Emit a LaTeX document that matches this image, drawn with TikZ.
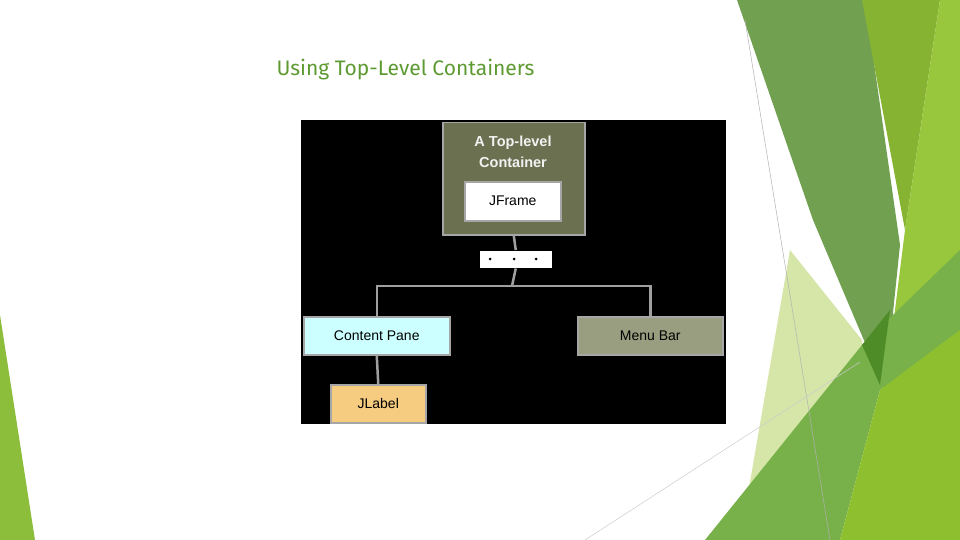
\documentclass[tikz,border=0pt]{standalone}
\usepackage{fontspec}
\setmainfont{Liberation Sans}
\newfontfamily\titlefont{Fira Sans}
\begin{document}
\begin{tikzpicture}[x=1pt,y=-1pt,
  box/.style={draw=gray!70,line width=1.5pt,inner sep=0pt,font=\fontsize{14}{16}\selectfont},
  link/.style={draw=gray!75,line width=2.5pt}]
\useasboundingbox (0,0) rectangle (960,540);
\fill[white] (0,0) rectangle (960,540);
% background shapes
\fill[green!50!black!60!lime!60!white,fill=lime!50!green!40!black!10!white] (0,0) rectangle (0,0);
\fill[color={rgb,255:red,213;green,230;blue,168}] (790,250) -- (862,340) -- (870,400) -- (760,540) -- (740,540) -- cycle;
\fill[color={rgb,255:red,112;green,160;blue,80}] (737,0) -- (865,0) -- (900,245) -- (885,390) -- (813,220) -- cycle;
\fill[color={rgb,255:red,134;green,179;blue,50}] (862,0) -- (940,0) -- (905,230) -- cycle;
\fill[color={rgb,255:red,152;green,198;blue,60}] (940,0) -- (960,0) -- (960,540) -- (870,540) -- (885,390) -- (905,230) -- cycle;
\fill[color={rgb,255:red,120;green,176;blue,74}] (705,540) -- (862,345) -- (960,250) -- (960,330) -- (880,390) -- (840,540) -- cycle;
\fill[color={rgb,255:red,142;green,191;blue,46}] (840,540) -- (880,390) -- (960,330) -- (960,540) -- cycle;
\fill[color={rgb,255:red,78;green,140;blue,40}] (862,345) -- (890,310) -- (880,385) -- cycle;
\fill[color={rgb,255:red,140;green,190;blue,60}] (0,315) -- (35,540) -- (0,540) -- cycle;
\draw[gray!60,line width=0.5pt] (745,20) -- (830,540);
\draw[gray!40,line width=0.5pt] (585,540) -- (860,362);
% title
\node[font=\titlefont\fontsize{21}{24}\selectfont,text={rgb,255:red,94;green,154;blue,50},anchor=west] (title) at (273,70) {Using Top-Level Containers};
% diagram
\fill[black] (301,120) rectangle (726,424);
\node[box,fill={rgb,255:red,107;green,112;blue,80},minimum width=142,minimum height=112,anchor=north west] (top) at (442,122) {};
\node[font=\bfseries\fontsize{14.5}{21}\selectfont,text=white!90!gray,align=center] (toptxt) at (513,152) {A Top-level\\Container};
\node[box,fill=white,minimum width=96,minimum height=39,anchor=north west] (jf) at (464,181) {JFrame};
\node[box,draw=none,fill=white,minimum width=72,minimum height=17,anchor=north west] (dots) at (479,250) {};
\foreach \i/\xx in {1/490,2/514,3/536} \fill[black] (\xx,259) circle (1.5);
\coordinate (junc) at (512,286);
\node[box,fill={rgb,255:red,204;green,255;blue,255},minimum width=146,minimum height=38,anchor=north west] (cp) at (303,316) {Content Pane};
\node[box,fill={rgb,255:red,154;green,158;blue,128},minimum width=145,minimum height=38,anchor=north west] (mb) at (577,316) {Menu Bar};
\node[box,fill={rgb,255:red,245;green,204;blue,128},minimum width=95,minimum height=38,anchor=north west] (jl) at (330,384) {JLabel};
\draw[link] (top.south) -- (dots.north);
\draw[link] (dots.south) -- (junc);
\draw[link] (cp.north) |- (junc) -| (mb.north);
\draw[link] (cp.south) -- (jl.north);
\end{tikzpicture}
\end{document}
